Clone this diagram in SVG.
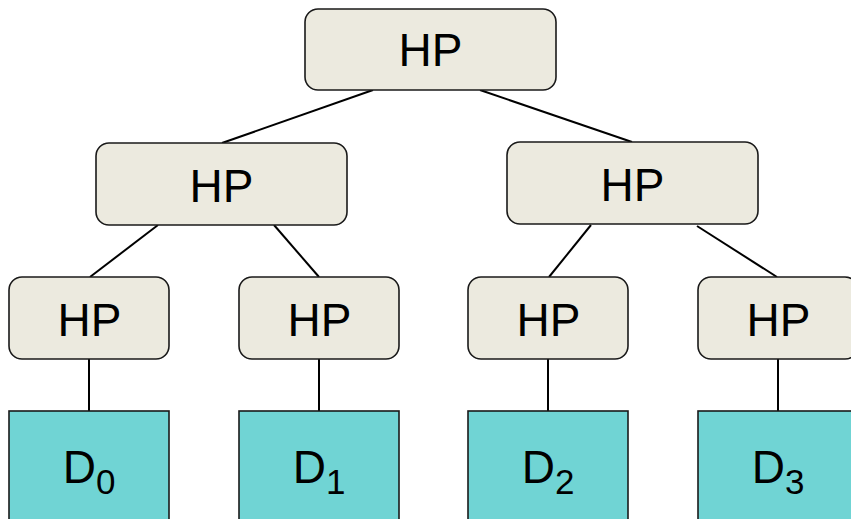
<svg xmlns="http://www.w3.org/2000/svg" width="851" height="519" viewBox="0 0 851 519">
  <style>
    .hp rect { fill: #ECEADF; stroke: #1a1a1a; stroke-width: 1.6; }
    .d rect { fill: #70D4D4; stroke: #1a1a1a; stroke-width: 1.6; }
    text { font-family: "Liberation Sans", Arial, sans-serif; font-size: 46px; fill: #000; text-anchor: middle; }
    .sub { font-size: 35px; }
    #connectors line { stroke: #000; stroke-width: 2; }
  </style>
  <rect width="851" height="519" fill="#fff"/>

  <g id="connectors">
    <line x1="373" y1="90" x2="222" y2="143"/>
    <line x1="480" y1="90" x2="632" y2="142"/>
    <line x1="158" y1="225" x2="90" y2="277"/>
    <line x1="274" y1="225" x2="319" y2="277"/>
    <line x1="591" y1="225" x2="549" y2="277"/>
    <line x1="697" y1="226" x2="777" y2="277"/>
    <line x1="89" y1="359" x2="89" y2="411"/>
    <line x1="319" y1="359" x2="319" y2="411"/>
    <line x1="548" y1="359" x2="548" y2="411"/>
    <line x1="778" y1="359" x2="778" y2="411"/>
  </g>

  <g id="hp-root" class="hp">
    <rect x="305" y="9" width="251" height="81" rx="13"/>
    <text x="430.5" y="66">HP</text>
  </g>
  <g id="hp-left" class="hp">
    <rect x="96" y="143" width="251" height="82" rx="13"/>
    <text x="221.5" y="202">HP</text>
  </g>
  <g id="hp-right" class="hp">
    <rect x="507" y="142" width="251" height="82" rx="13"/>
    <text x="632.5" y="201">HP</text>
  </g>
  <g id="hp-leaf0" class="hp">
    <rect x="9" y="277" width="160" height="82" rx="13"/>
    <text x="89.5" y="336">HP</text>
  </g>
  <g id="hp-leaf1" class="hp">
    <rect x="239" y="277" width="160" height="82" rx="13"/>
    <text x="319.5" y="336">HP</text>
  </g>
  <g id="hp-leaf2" class="hp">
    <rect x="468" y="277" width="160" height="82" rx="13"/>
    <text x="548.5" y="336">HP</text>
  </g>
  <g id="hp-leaf3" class="hp">
    <rect x="698" y="277" width="160" height="82" rx="13"/>
    <text x="778.5" y="336">HP</text>
  </g>

  <g id="d0" class="d">
    <rect x="9" y="411" width="160" height="120"/>
    <text x="89" y="483">D<tspan class="sub" dy="11">0</tspan></text>
  </g>
  <g id="d1" class="d">
    <rect x="239" y="411" width="160" height="120"/>
    <text x="319" y="483">D<tspan class="sub" dy="11">1</tspan></text>
  </g>
  <g id="d2" class="d">
    <rect x="468" y="411" width="160" height="120"/>
    <text x="548" y="483">D<tspan class="sub" dy="11">2</tspan></text>
  </g>
  <g id="d3" class="d">
    <rect x="698" y="411" width="160" height="120"/>
    <text x="778" y="483">D<tspan class="sub" dy="11">3</tspan></text>
  </g>
</svg>
